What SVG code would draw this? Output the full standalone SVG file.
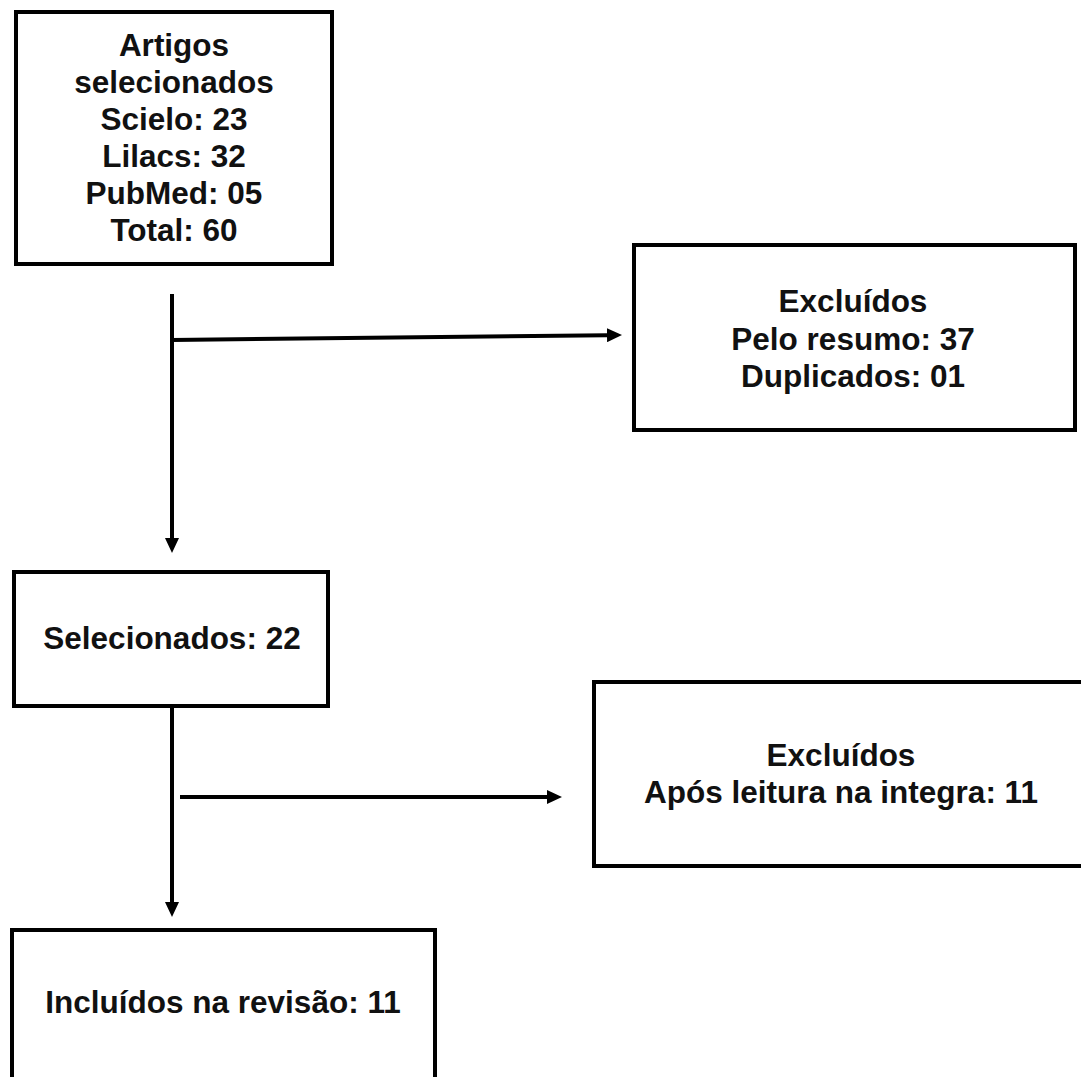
<svg xmlns="http://www.w3.org/2000/svg" width="1081" height="1077" viewBox="0 0 1081 1077">
<style>
.box{fill:#fff;stroke:#000;stroke-width:4}
.t{font-family:"Liberation Sans",Arial,sans-serif;font-weight:bold;font-size:31.5px;fill:#111;text-anchor:middle}
.c{fill:none;stroke:#000;stroke-width:4}
</style>
<defs>
<marker id="ah" viewBox="0 0 15 14" refX="0" refY="7" markerWidth="15" markerHeight="14" markerUnits="userSpaceOnUse" orient="auto">
<path d="M0,0 L15,7 L0,14 z" fill="#000"/>
</marker>
</defs>
<rect x="0" y="0" width="1081" height="1077" fill="#fff"/>
<g id="n1">
<rect class="box" x="16" y="12" width="316" height="252"/>
<text class="t" x="174" y="56">Artigos</text>
<text class="t" x="174" y="93">selecionados</text>
<text class="t" x="174" y="130">Scielo: 23</text>
<text class="t" x="174" y="167">Lilacs: 32</text>
<text class="t" x="174" y="204">PubMed: 05</text>
<text class="t" x="174" y="241">Total: 60</text>
</g>
<g id="n2">
<rect class="box" x="634" y="245" width="441" height="185"/>
<text class="t" x="853" y="312">Excluídos</text>
<text class="t" x="853" y="350">Pelo resumo: 37</text>
<text class="t" x="853" y="387">Duplicados: 01</text>
</g>
<g id="n3">
<rect class="box" x="14" y="572" width="314" height="134"/>
<text class="t" x="172" y="649">Selecionados: 22</text>
</g>
<g id="n4">
<rect class="box" x="594" y="682" width="500" height="184"/>
<text class="t" x="841" y="766">Excluídos</text>
<text class="t" x="841" y="803">Após leitura na integra: 11</text>
</g>
<g id="n5">
<rect class="box" x="12" y="930" width="423" height="200"/>
<text class="t" x="223" y="1013">Incluídos na revisão: 11</text>
</g>
<g id="connectors">
<path class="c" d="M172,294 L172,538" marker-end="url(#ah)"/>
<path class="c" d="M172,340 L607,335.2" marker-end="url(#ah)"/>
<path class="c" d="M172,708 L172,902" marker-end="url(#ah)"/>
<path class="c" d="M180,797 L547,797" marker-end="url(#ah)"/>
</g>
</svg>
